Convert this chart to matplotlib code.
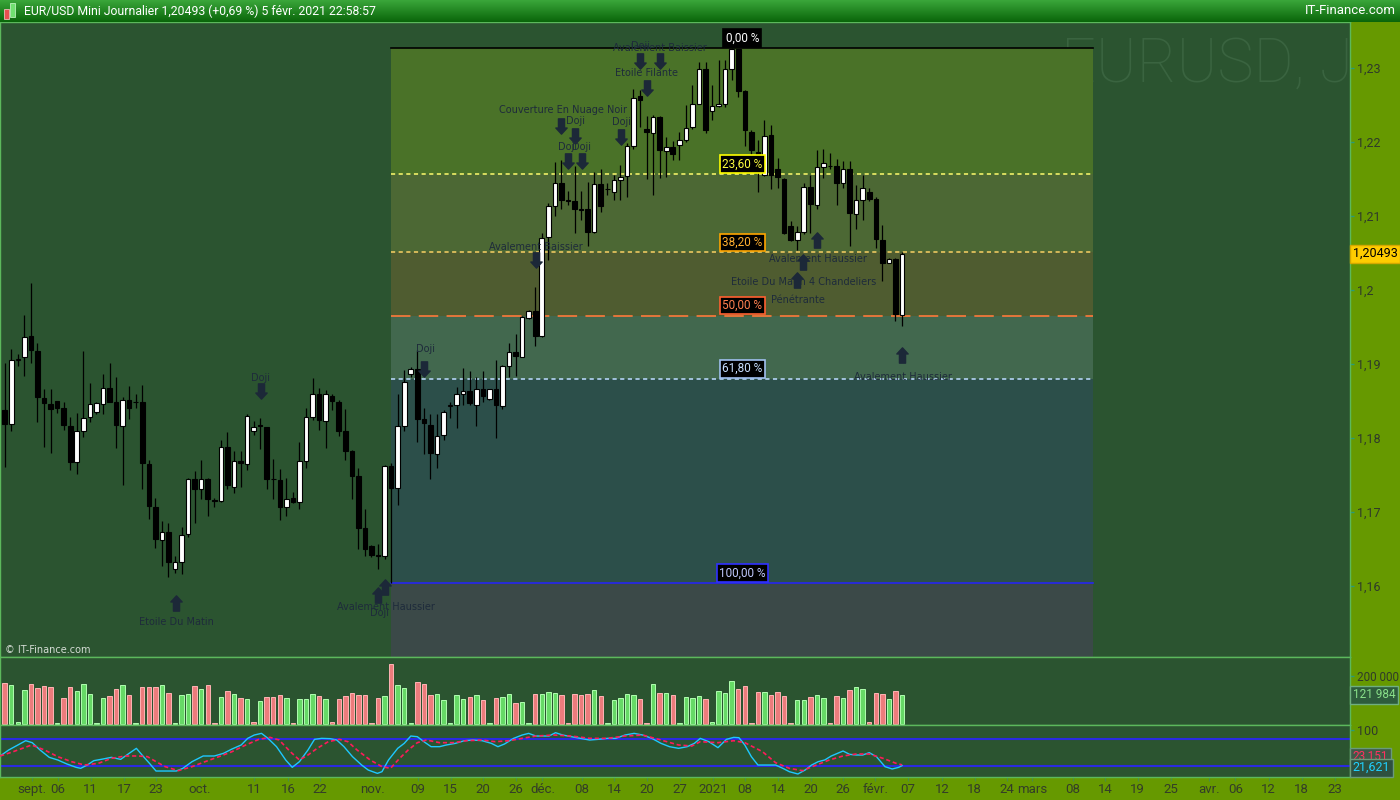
import numpy as np
import matplotlib
matplotlib.use('Agg')
import matplotlib.pyplot as plt
from matplotlib.path import Path
from matplotlib.patches import Rectangle
from matplotlib.colors import LinearSegmentedColormap

plt.rcParams['lines.scale_dashes'] = False
plt.rcParams['font.family'] = ['Roboto', 'DejaVu Sans']

# daily bars, index 0 = 27 aout 2020 (sunday sessions included)
opens = [1.1838, 1.1819, 1.1906, 1.1909, 1.1938, 1.1918, 1.1854, 1.1846, 1.1850, 1.1841,
         1.1816, 1.1767, 1.1809, 1.1828, 1.1835, 1.1846, 1.1867, 1.1849, 1.1816, 1.1852,
         1.1849, 1.1849, 1.1765, 1.1707, 1.1662, 1.1673, 1.1623, 1.1632, 1.1670, 1.1744,
         1.1731, 1.1744, 1.1716, 1.1715, 1.1788, 1.1734, 1.1769, 1.1765, 1.1809, 1.1817,
         1.1815, 1.1744, 1.1743, 1.1707, 1.1719, 1.1713, 1.1769, 1.1829, 1.1859, 1.1823,
         1.1857, 1.1848, 1.1809, 1.1782, 1.1748, 1.1678, 1.1654, 1.1642, 1.1641, 1.1762,
         1.1732, 1.1816, 1.1886, 1.1893, 1.1825, 1.1818, 1.1779, 1.1804, 1.1843, 1.1844,
         1.1859, 1.1864, 1.1844, 1.1866, 1.1853, 1.1866, 1.1843, 1.1897, 1.1916, 1.1910,
         1.1962, 1.1972, 1.1938, 1.2071, 1.2114, 1.2144, 1.2121, 1.2120, 1.2109, 1.2109,
         1.2078, 1.2143, 1.2137, 1.2132, 1.2149, 1.2154, 1.2195, 1.2262, 1.2217, 1.2212,
         1.2234, 1.2188, 1.2193, 1.2196, 1.2203, 1.2220, 1.2252, 1.2298, 1.2242, 1.2249,
         1.2252, 1.2298, 1.2326, 1.2269, 1.2213, 1.2186, 1.2156, 1.2209, 1.2163, 1.2150,
         1.2087, 1.2067, 1.2078, 1.2139, 1.2115, 1.2166, 1.2168, 1.2167, 1.2144, 1.2163,
         1.2103, 1.2122, 1.2133, 1.2123, 1.2068, 1.2036, 1.2042, 1.1966]
highs = [1.1901, 1.1920, 1.1914, 1.1966, 1.2010, 1.1928, 1.1866, 1.1866, 1.1850, 1.1848,
         1.1829, 1.1834, 1.1918, 1.1874, 1.1848, 1.1887, 1.1901, 1.1882, 1.1855, 1.1870,
         1.1859, 1.1871, 1.1770, 1.1719, 1.1688, 1.1685, 1.1640, 1.1680, 1.1746, 1.1755,
         1.1770, 1.1746, 1.1719, 1.1797, 1.1808, 1.1783, 1.1783, 1.1833, 1.1823, 1.1827,
         1.1815, 1.1771, 1.1758, 1.1746, 1.1727, 1.1794, 1.1840, 1.1881, 1.1867, 1.1865,
         1.1860, 1.1852, 1.1839, 1.1784, 1.1759, 1.1704, 1.1656, 1.1657, 1.1764, 1.1766,
         1.1859, 1.1892, 1.1896, 1.1919, 1.1840, 1.1833, 1.1833, 1.1838, 1.1849, 1.1869,
         1.1894, 1.1891, 1.1882, 1.1891, 1.1866, 1.1906, 1.1899, 1.1929, 1.1940, 1.1965,
         1.1973, 1.2004, 1.2077, 1.2117, 1.2173, 1.2176, 1.2134, 1.2167, 1.2134, 1.2146,
         1.2160, 1.2164, 1.2145, 1.2155, 1.2169, 1.2198, 1.2272, 1.2270, 1.2235, 1.2236,
         1.2235, 1.2207, 1.2202, 1.2214, 1.2250, 1.2277, 1.2308, 1.2308, 1.2277, 1.2311,
         1.2311, 1.2327, 1.2326, 1.2270, 1.2216, 1.2203, 1.2230, 1.2223, 1.2178, 1.2151,
         1.2093, 1.2086, 1.2145, 1.2156, 1.2189, 1.2190, 1.2185, 1.2177, 1.2174, 1.2174,
         1.2142, 1.2156, 1.2138, 1.2125, 1.2088, 1.2043, 1.2043, 1.2051]
lows = [1.1761, 1.1810, 1.1897, 1.1884, 1.1901, 1.1822, 1.1788, 1.1780, 1.1834, 1.1811,
        1.1757, 1.1752, 1.1801, 1.1822, 1.1833, 1.1832, 1.1849, 1.1787, 1.1737, 1.1826,
        1.1840, 1.1731, 1.1691, 1.1651, 1.1627, 1.1612, 1.1618, 1.1616, 1.1666, 1.1685,
        1.1717, 1.1695, 1.1707, 1.1713, 1.1731, 1.1726, 1.1734, 1.1757, 1.1804, 1.1785,
        1.1731, 1.1717, 1.1689, 1.1694, 1.1712, 1.1704, 1.1760, 1.1824, 1.1811, 1.1787,
        1.1838, 1.1803, 1.1770, 1.1717, 1.1650, 1.1641, 1.1639, 1.1623, 1.1637, 1.1604,
        1.1709, 1.1810, 1.1883, 1.1795, 1.1779, 1.1745, 1.1759, 1.1797, 1.1827, 1.1814,
        1.1845, 1.1845, 1.1816, 1.1849, 1.1851, 1.1800, 1.1839, 1.1882, 1.1884, 1.1909,
        1.1961, 1.1924, 1.1936, 1.2040, 1.2100, 1.2109, 1.2115, 1.2077, 1.2095, 1.2059,
        1.2077, 1.2105, 1.2128, 1.2122, 1.2121, 1.2126, 1.2190, 1.2220, 1.2150, 1.2128,
        1.2152, 1.2153, 1.2175, 1.2175, 1.2200, 1.2218, 1.2251, 1.2212, 1.2230, 1.2247,
        1.2247, 1.2284, 1.2261, 1.2195, 1.2180, 1.2132, 1.2154, 1.2136, 1.2138, 1.2075,
        1.2066, 1.2054, 1.2076, 1.2077, 1.2109, 1.2151, 1.2163, 1.2115, 1.2138, 1.2059,
        1.2082, 1.2095, 1.2120, 1.2057, 1.2012, 1.2036, 1.1958, 1.1952]
closes = [1.1819, 1.1906, 1.1907, 1.1937, 1.1919, 1.1855, 1.1847, 1.1839, 1.1841, 1.1817,
          1.1768, 1.1809, 1.1827, 1.1846, 1.1847, 1.1867, 1.1849, 1.1817, 1.1852, 1.1841,
          1.1848, 1.1766, 1.1708, 1.1663, 1.1673, 1.1632, 1.1633, 1.1669, 1.1744, 1.1731,
          1.1744, 1.1717, 1.1715, 1.1788, 1.1736, 1.1769, 1.1766, 1.1830, 1.1815, 1.1816,
          1.1745, 1.1744, 1.1707, 1.1717, 1.1714, 1.1769, 1.1828, 1.1859, 1.1824, 1.1860,
          1.1850, 1.1810, 1.1783, 1.1749, 1.1679, 1.1650, 1.1642, 1.1641, 1.1762, 1.1733,
          1.1816, 1.1875, 1.1893, 1.1825, 1.1820, 1.1780, 1.1803, 1.1835, 1.1845, 1.1859,
          1.1864, 1.1847, 1.1866, 1.1857, 1.1866, 1.1844, 1.1897, 1.1916, 1.1911, 1.1963,
          1.1972, 1.1938, 1.2070, 1.2113, 1.2144, 1.2121, 1.2120, 1.2109, 1.2108, 1.2079,
          1.2143, 1.2114, 1.2136, 1.2148, 1.2153, 1.2195, 1.2260, 1.2257, 1.2214, 1.2234,
          1.2189, 1.2193, 1.2184, 1.2203, 1.2219, 1.2252, 1.2298, 1.2216, 1.2249, 1.2252,
          1.2298, 1.2326, 1.2269, 1.2216, 1.2189, 1.2181, 1.2208, 1.2156, 1.2153, 1.2077,
          1.2067, 1.2078, 1.2139, 1.2116, 1.2166, 1.2172, 1.2167, 1.2145, 1.2163, 1.2104,
          1.2122, 1.2138, 1.2123, 1.2069, 1.2037, 1.2042, 1.1967, 1.20493]
volumes = [171000, 162500, 7000, 141500, 166700, 149900, 158300, 154100, 5000, 107900,
           154100, 137300, 166700, 126100, 5000, 107900, 116300, 145700, 162500, 120500,
           5000, 154100, 154100, 154100, 163900, 131700, 5000, 121900, 124700, 158300,
           145700, 162500, 5000, 112100, 137300, 124700, 107900, 103700, 8400, 96600,
           112100, 112100, 120500, 107900, 5000, 103700, 103700, 124700, 116300, 103700,
           8400, 103700, 116300, 128900, 120500, 120500, 5000, 107900, 116300, 250700,
           162500, 149900, 5000, 175100, 169500, 120500, 126100, 99500, 5000, 120500,
           103700, 112100, 120500, 99500, 5000, 107900, 112100, 124700, 86900, 91100,
           5000, 126100, 126100, 133100, 128900, 120500, 5000, 126100, 120500, 126100,
           141500, 116300, 5000, 99500, 107900, 126100, 120500, 103700, 5000, 166700,
           128900, 128900, 120000, 5000, 112100, 107900, 116300, 103700, 8400, 138700,
           128900, 180700, 147100, 159700, 4200, 134500, 134500, 121900, 134500, 117700,
           4200, 100800, 100800, 113500, 121900, 109300, 4200, 117700, 109300, 142900,
           155500, 147100, 8400, 130000, 126100, 105100, 138700, 121984]

# stochastic (bar index, value)
stoch_k_x = [-0.7, 0.6, 2.0, 3.2, 4.2, 5.4, 6.8, 8.1, 9.5, 10.9, 11.6, 12.6, 13.6, 15.0, 16.3,
             17.7, 19.0, 20.1, 21.1, 22.1, 23.1, 25.2, 26.2, 27.2, 28.6, 30.3, 32.0, 33.4, 34.7,
             36.1, 37.1, 38.1, 39.2, 40.2, 41.5, 42.9, 43.9, 45.0, 46.3, 47.3, 48.4, 49.7, 50.7,
             51.8, 53.1, 54.5, 55.5, 56.9, 57.6, 58.6, 60.0, 61.0, 62.0, 63.0, 64.0, 65.1, 66.4,
             67.4, 68.8, 70.2, 71.5, 72.9, 74.3, 75.3, 76.3, 77.7, 79.0, 80.0, 81.1, 83.1, 84.1,
             85.2, 86.5, 87.9, 89.3, 90.6, 92.0, 93.3, 94.7, 96.1, 97.4, 98.8, 100.2, 101.5,
             102.9, 104.2, 105.3, 106.2, 107.5, 108.9, 110.2, 111.3, 112.1, 113.0, 114.0, 115.0,
             116.4, 117.7, 118.8, 119.8, 121.1, 122.2, 123.2, 124.2, 125.2, 126.2, 128.0, 129.0,
             130.0, 131.0, 132.0, 133.1, 134.4, 135.5, 136.5, 137.0]
stoch_k = [42.9, 56.2, 67.3, 76.9, 72.5, 56.2, 39.9, 34.0, 25.1, 17.7, 15.5, 22.8, 32.5, 36.2,
           39.9, 35.4, 48.8, 59.9, 42.9, 26.6, 9.5, 9.5, 9.5, 15.5, 30.3, 42.9, 42.9, 48.8, 58.4,
           67.3, 82.1, 89.5, 93.2, 82.1, 63.6, 34.0, 17.7, 30.3, 56.2, 79.9, 82.1, 81.4, 78.4,
           63.6, 41.4, 22.8, 11.7, 4.3, 8.0, 34.0, 59.9, 71.0, 87.3, 85.8, 74.7, 63.6, 63.6, 67.3,
           71.0, 76.9, 78.4, 76.9, 71.0, 63.6, 69.5, 82.1, 89.5, 93.2, 87.3, 87.3, 94.7, 89.5,
           85.8, 82.1, 78.4, 79.9, 82.1, 82.1, 89.5, 93.2, 89.5, 82.1, 71.0, 63.6, 59.9, 63.6,
           71.0, 82.1, 74.7, 61.4, 79.9, 84.3, 83.6, 67.3, 41.4, 22.8, 22.8, 22.8, 15.5, 8.0, 2.9,
           11.7, 22.8, 30.3, 34.0, 42.9, 54.0, 46.6, 45.1, 45.1, 50.3, 41.4, 19.2, 14.0, 17.7,
           21.621]
stoch_d_x = [-0.7, 1.3, 4.1, 6.1, 8.1, 10.2, 12.2, 14.3, 16.3, 18.4, 20.4, 21.8, 23.1, 24.5,
             26.5, 28.6, 30.6, 32.7, 34.7, 36.8, 38.8, 40.5, 41.9, 43.6, 45.0, 46.3, 47.7, 49.4,
             51.1, 52.4, 53.8, 55.8, 57.6, 58.9, 60.3, 61.6, 63.0, 64.4, 66.4, 68.5, 70.5, 72.9,
             74.9, 77.0, 79.0, 81.1, 83.8, 86.5, 89.3, 92.0, 94.7, 97.4, 100.2, 102.9, 104.9,
             106.2, 108.9, 111.3, 113.0, 115.7, 117.7, 119.8, 121.8, 123.9, 125.9, 128.0, 130.0,
             132.0, 134.1, 136.1, 137.0]
stoch_d = [42.9, 52.5, 67.3, 56.2, 41.4, 30.3, 22.8, 26.6, 37.7, 42.9, 42.9, 41.4, 30.3, 19.2,
           10.3, 19.2, 30.3, 41.4, 52.5, 67.3, 79.9, 84.3, 78.4, 52.5, 34.0, 45.1, 59.9, 74.7,
           79.9, 74.7, 56.2, 34.0, 19.2, 15.5, 37.7, 56.2, 72.5, 78.4, 72.5, 72.5, 76.9, 78.4,
           74.7, 76.9, 82.1, 87.3, 89.5, 87.3, 82.1, 82.1, 87.3, 89.5, 78.4, 67.3, 65.1, 74.7,
           72.5, 76.9, 72.5, 52.5, 28.0, 15.5, 10.3, 22.8, 34.0, 42.9, 47.3, 47.3, 37.7, 26.6,
           23.151]
stoch_bands = [80, 20]

fib_high = 1.2327
fib_low = 1.1604
fib_start = 59
fib_end = 166.2
fib_label_x = 112.6
fib_levels = [0.0, 23.6, 38.2, 50.0, 61.8, 100.0]
fib_labels = ['0,00 %', '23,60 %', '38,20 %', '50,00 %', '61,80 %', '100,00 %']

price_ticks = [1.16, 1.17, 1.18, 1.19, 1.20, 1.21, 1.22, 1.23]
price_tick_labels = ['1,16', '1,17', '1,18', '1,19', '1,2', '1,21', '1,22', '1,23']
vol_ticks = [200000]
vol_tick_labels = ['200 000']

date_pos = [4.1, 8.1, 13.1, 18.2, 23.1, 29.8, 38.1, 43.3, 48.1, 56.1, 63.1, 68.1, 73.0, 78.0,
            82.1, 88.1, 93.1, 98.1, 103.1, 108.2, 113.0, 118.1, 123.1, 128.0, 132.9, 137.9,
            143.1, 148.1, 153.0, 156.9, 163.1, 168.0, 173.0, 178.1, 183.9, 187.9, 193.0, 198.0,
            203.1]
date_labels = ['sept.', '06', '11', '17', '23', 'oct.', '11', '16', '22', 'nov.', '09', '15',
               '20', '26', 'déc.', '08', '14', '20', '27', '2021', '08', '14', '20', '26',
               'févr.', '07', '12', '18', '24', 'mars', '08', '14', '19', '25', 'avr.', '06',
               '12', '18', '23']

pattern_names = ['Etoile Du Matin', 'Doji', 'Avalement Haussier', 'Doji', 'Doji',
                 'Avalement Baissier', 'Couverture En Nuage Noir', 'Doji', 'Doji', 'Doji',
                 'Doji', 'Etoile Filante', 'Doji', 'Avalement Baissier', 'Avalement Haussier',
                 'Etoile Du Matin 4 Chandeliers', 'Pénétrante', 'Avalement Haussier']
pattern_text_x = [26.2, 39.1, 58.2, 57.2, 64.2, 81.1, 85.2, 87.1, 86.0, 88.1, 94.1, 98.0,
                  97.0, 100.0, 124.1, 122.0, 121.1, 137.1]
pattern_text_y = [1.15514, 1.18811, 1.15720, 1.15631, 1.19203, 1.20585, 1.22426, 1.22288,
                  1.21932, 1.21932, 1.22270, 1.22936, 1.23301, 1.23266, 1.20415, 1.20112,
                  1.19865, 1.18828]
pattern_arrow_x = [26.2, 39.1, 58.1, 57.0, 64.0, 81.1, 85.0, 87.1, 86.0, 88.1, 94.1, 98.0,
                   97.0, 100.0, 124.0, 121.9, 121.0, 137.0]
pattern_arrow_y = [1.15770, 1.18635, 1.15986, 1.15872, 1.18932, 1.20399, 1.22216, 1.22081,
                   1.21743, 1.21743, 1.22074, 1.22736, 1.23095, 1.23095, 1.20676, 1.20372,
                   1.20135, 1.19115]
pattern_dir = ['up', 'down', 'up', 'up', 'down', 'down', 'down', 'down', 'down', 'down',
               'down', 'down', 'down', 'down', 'up', 'up', 'up', 'up']

BG = '#2b5430'
STRIP = '#669900'
SEP = '#5cb85c'
LABEL = '#2f3a2a'
X0, X1 = -0.72, 205.4
W = 1350 / 1400


def arrow_path(up):
    s = 1 if up else -1
    pts = [(-0.2, -0.5), (0.2, -0.5), (0.2, 0.1), (0.37, 0.1), (0, 0.5),
           (-0.37, 0.1), (-0.2, 0.1), (-0.2, -0.5)]
    return Path([(x, s * y) for x, y in pts], closed=True)


def style_axes(ax):
    ax.set_facecolor(BG)
    ax.set_xlim(X0, X1)
    for s in ax.spines.values():
        s.set_color(SEP)
        s.set_linewidth(1)
    ax.tick_params(axis='x', bottom=False, labelbottom=False)
    ax.tick_params(axis='y', left=False, labelleft=False, right=True, labelright=True,
                   color='#2a9a7a', labelcolor=LABEL, length=3, width=1, pad=2, labelsize=9)


def tag(ax, text, y, fc, ec, tc, dy=0, size=9):
    ax.annotate(text, xy=(1, y), xycoords=('axes fraction', 'data'), xytext=(2, dy),
                textcoords='offset points', ha='left', va='center', fontsize=size, color=tc,
                bbox=dict(boxstyle='square,pad=0.2', fc=fc, ec=ec, lw=1),
                annotation_clip=False, zorder=10)


def draw_header(fig):
    hdr = fig.add_axes([0, 1 - 22 / 800, 1, 22 / 800])
    cmap = LinearSegmentedColormap.from_list('hdr', ['#0a660a', '#3aa63a'])
    hdr.imshow(np.linspace(0, 1, 50).reshape(-1, 1)[::-1], cmap=cmap, aspect='auto',
               extent=[0, 1, 0, 1])
    hdr.set_xlim(0, 1)
    hdr.set_ylim(0, 1)
    hdr.axis('off')
    hdr.add_patch(Rectangle((4 / 1400, 0.15), 5 / 1400, 0.45, fc='#e85050', ec='#ffd0d0', lw=0.5))
    hdr.add_patch(Rectangle((10 / 1400, 0.25), 5 / 1400, 0.6, fc='#70e070', ec='#d0ffd0', lw=0.5))
    hdr.text(24 / 1400, 0.5, 'EUR/USD Mini Journalier 1,20493 (+0,69 %) 5 févr. 2021 22:58:57',
             color='white', fontsize=8.8, va='center', ha='left')
    hdr.text(1396 / 1400, 0.5, 'IT-Finance.com', color='white', fontsize=9.5, va='center',
             ha='right')


def draw_price(fig):
    ax = fig.add_axes([0, 143 / 800, W, 635 / 800])
    style_axes(ax)
    ymin, ymax = 1.150405, 1.236216
    ax.set_ylim(ymin, ymax)
    ax.set_yticks(price_ticks)
    ax.set_yticklabels(price_tick_labels)

    span = fib_high - fib_low
    lv = [fib_high - span * p / 100 for p in fib_levels]
    zone_colors = ['#4a7228', '#4c6834', '#4f5c30', '#42684e', '#2c4f4a']
    for k in range(5):
        ax.add_patch(Rectangle((fib_start, lv[k + 1]), fib_end - fib_start, lv[k] - lv[k + 1],
                               fc=zone_colors[k], ec='none', zorder=0.5))
    ax.add_patch(Rectangle((fib_start, ymin), fib_end - fib_start, lv[5] - ymin,
                           fc='#3b4948', ec='none', zorder=0.5))
    line_colors = ['#000000', '#f0f068', '#ecc860', '#ff7a3a', '#b4d4f4', '#2626f0']
    line_dashes = [None, (3, 2.5), (3, 2.5), (14, 6), (3, 2.5), None]
    text_colors = ['#ffffff', '#ffff40', '#ffb030', '#ff8050', '#c8e0ff', '#c0c8ff']
    box_edges = ['#000000', '#ffff00', '#ffa500', '#ff6030', '#a0c0f0', '#3030ff']
    for k in range(6):
        kw = dict(color=line_colors[k], lw=1.2, zorder=1.5)
        if line_dashes[k]:
            kw['dashes'] = line_dashes[k]
        ax.plot([fib_start, fib_end], [lv[k], lv[k]], **kw)
        ax.annotate(fib_labels[k], xy=(fib_label_x, lv[k]), xytext=(0, 2.5),
                    textcoords='offset points', ha='center', va='bottom', fontsize=8.5,
                    color=text_colors[k],
                    bbox=dict(boxstyle='square,pad=0.2', fc='black', ec=box_edges[k], lw=1.2),
                    zorder=6)

    x = np.arange(len(closes))
    o = np.array(opens)
    c = np.array(closes)
    up = c >= o
    ax.vlines(x, lows, highs, color='black', lw=0.9, zorder=2.5)
    body = np.maximum(np.abs(c - o), 0.00004)
    ax.bar(x, body, width=0.7, bottom=np.minimum(o, c),
           color=np.where(up, 'white', 'black'), edgecolor='black', linewidth=0.8, zorder=3)

    up_m, down_m = arrow_path(True), arrow_path(False)
    for name, tx, ty, axx, ay, d in zip(pattern_names, pattern_text_x, pattern_text_y,
                                        pattern_arrow_x, pattern_arrow_y, pattern_dir):
        ax.plot(axx, ay, marker=up_m if d == 'up' else down_m, ms=11, color='#1c2838',
                ls='none', zorder=4)
        ax.text(tx, ty, name, ha='center', va='center', fontsize=7, color='#1e2b3b',
                family=['DejaVu Sans'], zorder=4)

    ax.text(1061 / 1350, 0.933, 'EURUSD, J', transform=ax.transAxes, fontsize=44,
            fontweight='light', color='#3a6440', ha='left', va='center', zorder=0.2)
    ax.text(0.004, 0.011, '© IT-Finance.com', transform=ax.transAxes, fontsize=7,
            color='#d4dcd4', ha='left', va='center', family=['DejaVu Sans'])
    tag(ax, '1,20493', closes[-1], '#ffcc00', '#d4a800', 'black')


def draw_volume(fig):
    ax = fig.add_axes([0, 75 / 800, W, 68 / 800])
    style_axes(ax)
    ax.set_ylim(-4200, 281500)
    ax.set_yticks(vol_ticks)
    ax.set_yticklabels(vol_tick_labels)
    ax.tick_params(axis='y', labelsize=8.5)
    x = np.arange(len(volumes))
    prev = np.array([opens[0]] + closes[:-1])
    rising = np.array(closes) >= prev
    ax.bar(x, volumes, width=0.68, color=np.where(rising, '#66d966', '#ec7c7c'),
           edgecolor=np.where(rising, '#b0ffb0', '#ffb4b4'), linewidth=0.7, zorder=2)
    tag(ax, '121 984', volumes[-1], '#2e5c3c', '#6fae7f', '#8ae08a', size=8.5)


def draw_stoch(fig):
    ax = fig.add_axes([0, 23 / 800, W, 52 / 800])
    style_axes(ax)
    ax.set_ylim(-3.8, 111.8)
    ax.set_yticks([100])
    ax.set_yticklabels(['100'])
    for b in stoch_bands:
        ax.axhline(b, color='#2a2ae0', lw=1.5, zorder=1)
    ax.plot(stoch_k_x, stoch_k, color='#1ec8ff', lw=1, zorder=2)
    ax.plot(stoch_d_x, stoch_d, color='#ff1a5a', lw=1.2, dashes=(3, 2), zorder=3)
    tag(ax, '23,151', stoch_d[-1], '#3e5a48', '#6a9a7a', '#ff3060', dy=6, size=8.5)
    tag(ax, '21,621', stoch_k[-1], '#2e5040', '#6a9a7a', '#20d0ff', dy=-1.5, size=9)
    ax.set_xticks(date_pos)
    ax.set_xticklabels(date_labels)
    ax.tick_params(axis='x', bottom=True, labelbottom=True, color='#4a8a4a',
                   labelcolor='#333d28', length=3, pad=1.5, labelsize=9.5)


def main():
    fig = plt.figure(figsize=(14, 8), dpi=100)
    fig.patch.set_facecolor(STRIP)
    draw_price(fig)
    draw_volume(fig)
    draw_stoch(fig)
    draw_header(fig)
    fig.savefig('out.png', dpi=100, facecolor=fig.get_facecolor())


if __name__ == '__main__':
    main()
